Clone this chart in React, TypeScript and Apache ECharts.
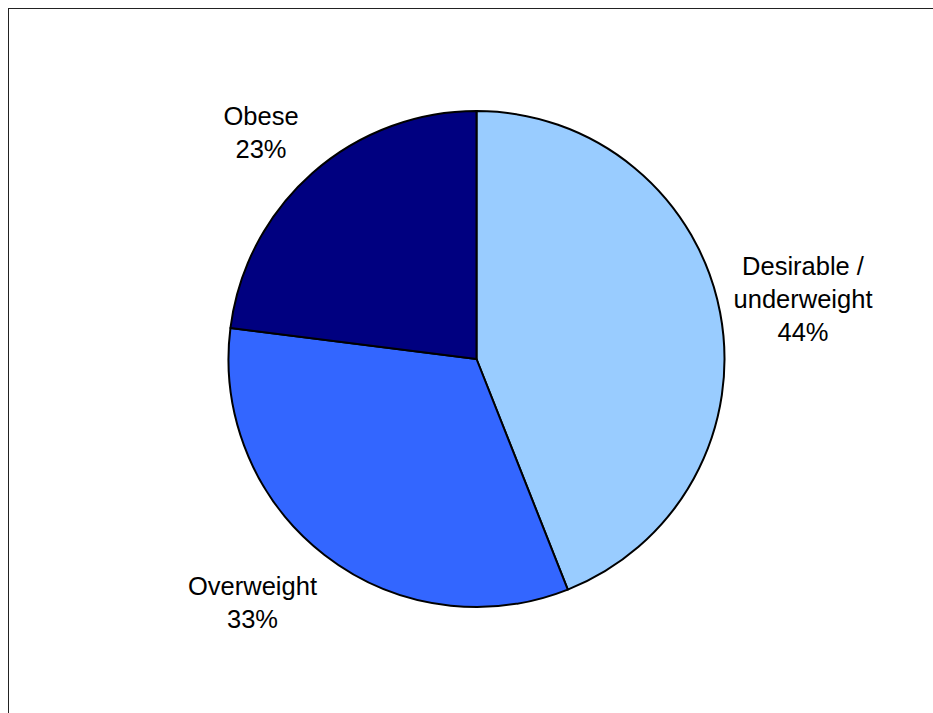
import React, { useEffect, useRef } from "react";
import * as echarts from "echarts";

const categories = ["Desirable /\nunderweight", "Overweight", "Obese"];
const values = [44, 33, 23];
const colors = ["#99CCFF", "#3366FF", "#000080"];
const labelPos: [number, number][] = [
  [794, 290],
  [243.5, 593],
  [252, 123],
];

export default function App() {
  const ref = useRef<HTMLDivElement>(null);
  useEffect(() => {
    if (!ref.current) return;
    const chart = echarts.init(ref.current, undefined, { renderer: "svg" });
    chart.setOption({
      animation: false,
      backgroundColor: "#ffffff",
      series: [
        {
          type: "pie",
          center: [467.5, 350],
          radius: 248,
          startAngle: 90,
          clockwise: true,
          data: categories.map((c, i) => ({
            name: c,
            value: values[i],
            itemStyle: { color: colors[i] },
          })),
          itemStyle: { borderColor: "#000000", borderWidth: 2 },
          label: {
            show: true,
            position: "outside",
            formatter: "{b}\n{d}%",
            fontFamily: "Liberation Sans, Arial, sans-serif",
            fontSize: 25.5,
            lineHeight: 33,
            color: "#000000",
            align: "center",
          },
          labelLine: { show: false },
          labelLayout: (p: any) => ({
            x: labelPos[p.dataIndex][0],
            y: labelPos[p.dataIndex][1],
            align: "center",
            verticalAlign: "middle",
          }),
          emphasis: { disabled: true },
        },
      ],
    });
    return () => chart.dispose();
  }, []);
  return (
    <div
      style={{
        position: "fixed",
        left: 8,
        top: 8,
        width: 935,
        height: 715,
        borderTop: "1px solid #222",
        borderLeft: "1px solid #222",
        boxSizing: "border-box",
        overflow: "hidden",
      }}
    >
      <div ref={ref} style={{ width: 934, height: 714 }} />
    </div>
  );
}
